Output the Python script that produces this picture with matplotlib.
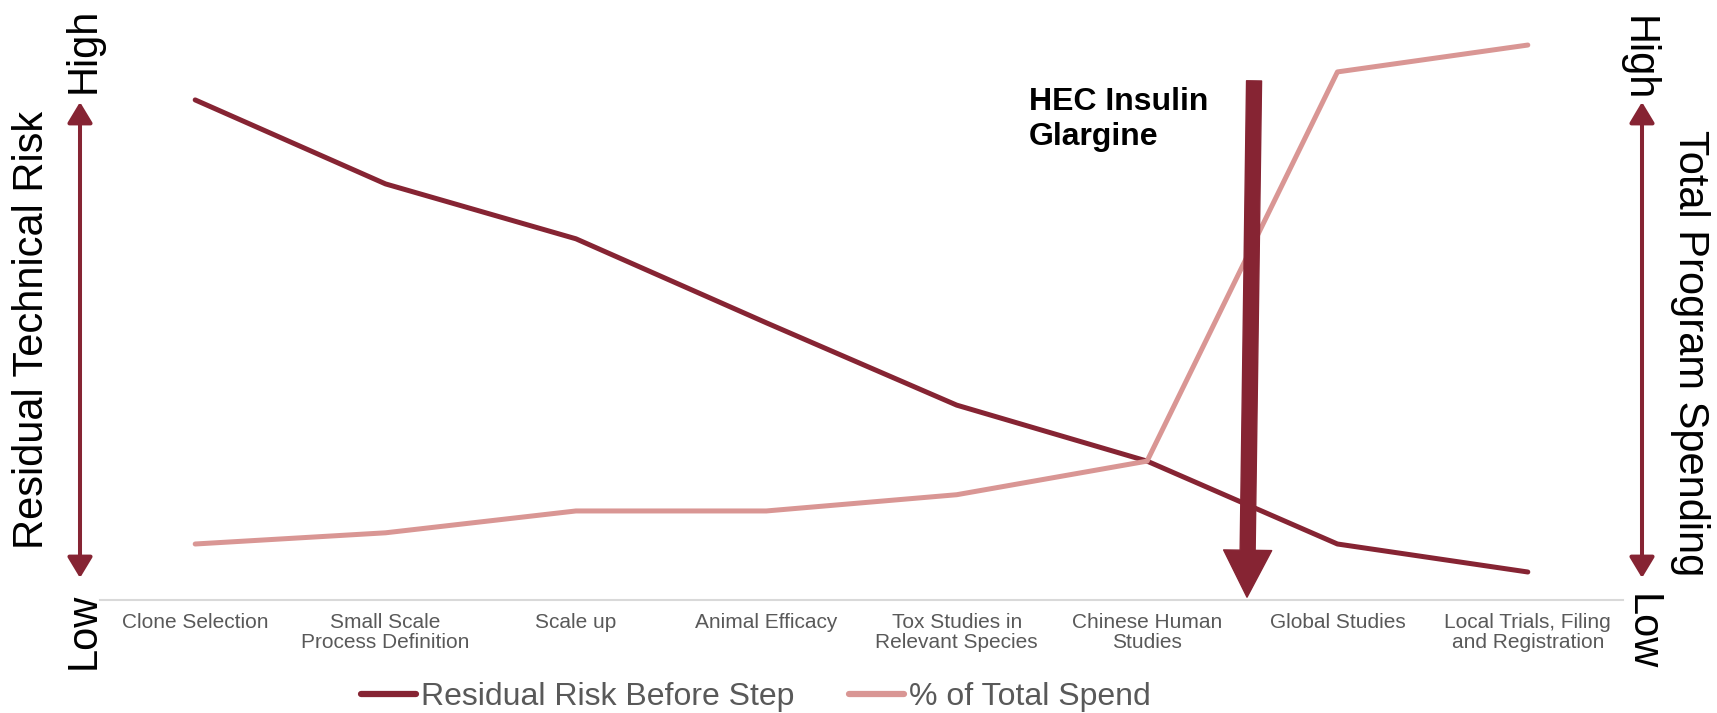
import matplotlib.pyplot as plt

plt.rcParams['font.family'] = ['Liberation Sans', 'DejaVu Sans']

# Данные
steps = ['Clone Selection', 'Small Scale\nProcess Definition', 'Scale up',
         'Animal Efficacy', 'Tox Studies in\nRelevant Species',
         'Chinese Human\nStudies', 'Global Studies',
         'Local Trials, Filing\nand Registration']
risk = [89.3, 74.3, 64.5, 49.5, 34.8, 24.8, 10.0, 5.0]
spend = [10.0, 12.0, 15.9, 15.9, 18.8, 24.8, 94.3, 99.1]

red = '#862433'
pink = '#D99694'
grey = '#595959'

W, H = 1717, 713
fig = plt.figure(figsize=(W / 100, H / 100), dpi=100)
ax = fig.add_axes([100 / W, (H - 600) / H, 1523 / W, 560 / H])

x = range(len(steps))
ax.plot(x, risk, color=red, lw=3.6, label='Residual Risk Before Step',
        solid_capstyle='round', solid_joinstyle='round')
ax.plot(x, spend, color=pink, lw=3.6, label='% of Total Spend',
        solid_capstyle='round', solid_joinstyle='round')

ax.set_xlim(-0.5, len(steps) - 0.5)
ax.set_ylim(0, 100)
ax.set_xticks(list(x))
ax.set_xticklabels(steps, fontsize=15, color=grey, linespacing=1.1)
ax.tick_params(axis='x', length=0, pad=9)
ax.set_yticks([])
for s in ['top', 'left', 'right']:
    ax.spines[s].set_visible(False)
ax.spines['bottom'].set_color('#D9D9D9')
ax.spines['bottom'].set_linewidth(1.5)

# Стрелка HEC
ax.annotate('', xy=(5.525, 0.5), xytext=(5.562, 92.7),
            arrowprops=dict(arrowstyle='simple,head_width=3.46,head_length=3.38,tail_width=1.08',
                            color=red, shrinkA=0, shrinkB=0, mutation_scale=10))
ax.text(4.38, 91.6, 'HEC Insulin\nGlargine', fontsize=23, fontweight='bold',
        ha='left', va='top', linespacing=1.2)

# Боковые оси
def px(xp, yp):
    return xp / W, 1 - yp / H

for xa in [80, 1642]:
    fig.add_artist(plt.matplotlib.patches.FancyArrowPatch(
        px(xa, 578), px(xa, 102), transform=fig.transFigure,
        arrowstyle='<|-|>,head_length=1.26,head_width=0.76', mutation_scale=10,
        color=red, lw=2.9, shrinkA=0, shrinkB=0))

fig.text(*px(84, 50), 'High', rotation=90, fontsize=30, ha='center', va='center')
fig.text(*px(84, 631), 'Low', rotation=90, fontsize=30, ha='center', va='center')
fig.text(*px(32, 330), 'Residual Technical Risk', rotation=90, fontsize=30,
         ha='center', va='center')
fig.text(*px(1638, 59), 'High', rotation=270, fontsize=30, ha='center', va='center')
fig.text(*px(1642, 632), 'Low', rotation=270, fontsize=30, ha='center', va='center')
fig.text(*px(1690, 353), 'Total Program Spending', rotation=270, fontsize=30,
         ha='center', va='center')

leg = ax.legend(loc='center', bbox_to_anchor=px(756, 697), bbox_transform=fig.transFigure,
                ncol=2, frameon=False, fontsize=23, handlelength=1.72,
                handletextpad=0.16, columnspacing=1.72, borderaxespad=0)
for t in leg.get_texts():
    t.set_color(grey)
for l in leg.get_lines():
    l.set_linewidth(4.5)

fig.savefig('out.png', dpi=100)
